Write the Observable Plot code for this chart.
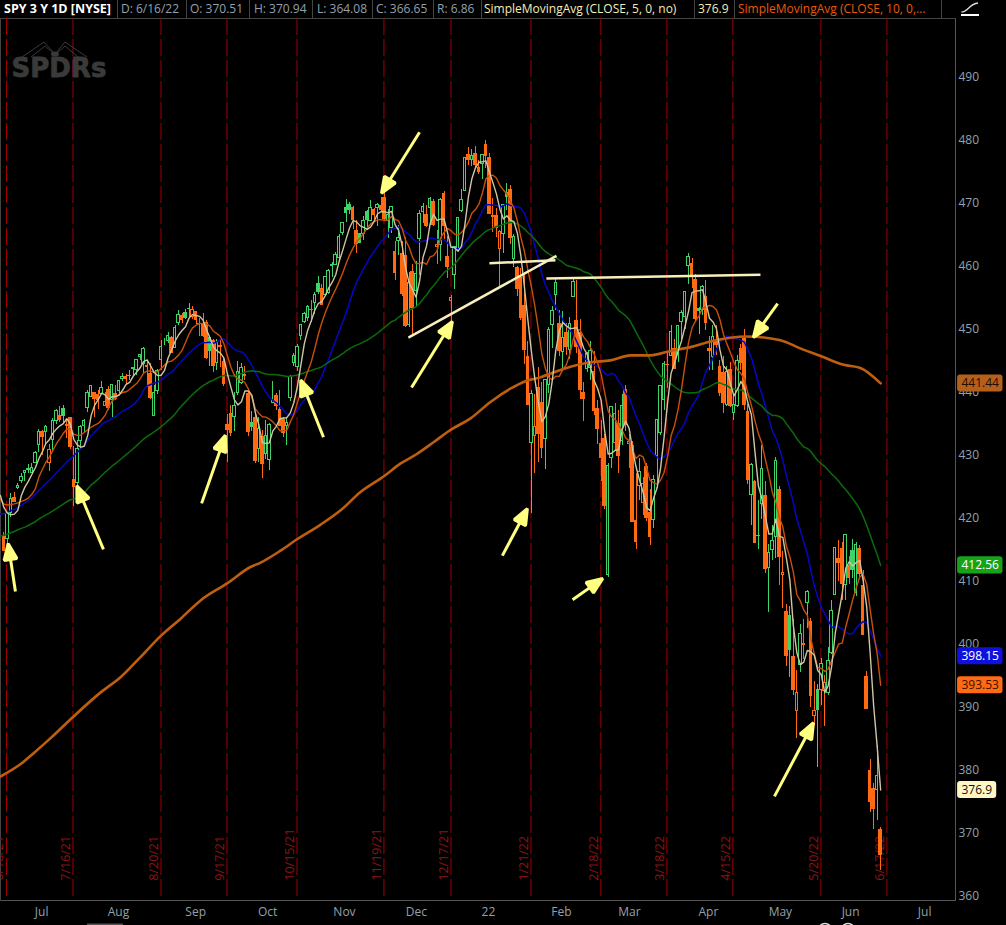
<!DOCTYPE html>
<html><head><meta charset="utf-8">
<script src="https://cdn.jsdelivr.net/npm/d3@7"></script>
<script src="https://cdn.jsdelivr.net/npm/@observablehq/plot@0.6"></script>
<style>
html,body{margin:0;padding:0;background:#000;width:1006px;height:925px;overflow:hidden;font-family:"Open Sans",sans-serif}
#head{position:relative;width:1006px;height:18px;font-size:12px;line-height:16px;color:#93a0ad;white-space:nowrap}
#head span{position:absolute;top:1px}
#head i{position:absolute;top:0;width:1px;height:18px;background:#444}
#deco{position:absolute;left:0;top:0;pointer-events:none}
#chart svg{display:block}
</style></head><body>
<div id="head">
<span style="left:4px;color:#fff;font-weight:700;font-size:12.5px">SPY 3 Y 1D [NYSE]</span><i style="left:117px"></i>
<span style="left:121px">D: 6/16/22</span><i style="left:186px"></i>
<span style="left:190px">O: 370.51</span><i style="left:249px"></i>
<span style="left:254px">H: 370.94</span><i style="left:312px"></i>
<span style="left:317px">L: 364.08</span><i style="left:372px"></i>
<span style="left:376px">C: 366.65</span><i style="left:433px"></i>
<span style="left:437px">R: 6.86</span><i style="left:481px"></i>
<span style="left:484px;color:#f5ecb8">SimpleMovingAvg (CLOSE, 5, 0, no)</span><i style="left:694px"></i>
<span style="left:698px;color:#f5ecb8">376.9</span><i style="left:734px"></i>
<span style="left:738px;color:#e8590c">SimpleMovingAvg (CLOSE, 10, 0,...</span><i style="left:941px"></i>
</div>
<div id="chart"></div>
<svg id="deco" width="1006" height="925" fill="none">
<path d="M961.5 12C968 12 969 4 978 3" stroke="#ddd" stroke-width="1.3"/>
<path d="M961 15H979" stroke="#fff" stroke-width="2"/>
<path d="M22 57L44 42L54 53M31 57L45 46L54 54M87 57L65 42L56 53M78 57L65 46L56 54" stroke="#3a3a3a" stroke-width="1"/>
<ellipse cx="55" cy="54" rx="4" ry="2.5" fill="#3a3a3a"/>
<rect x="87" y="923.5" width="36" height="1.5" fill="#555"/>
<circle cx="825" cy="930" r="6.5" stroke="#ddd" stroke-width="1.5"/>
<circle cx="848" cy="930" r="6.5" stroke="#ddd" stroke-width="1.5"/>
</svg>
<script>
const preCloses=[408.52,411.49,411.64,412.86,411.45,415.87,417.26,415.21,412.17,416.07,412.27,416.74,417.61,417.52,417.40,420.06,417.30,418.20,415.62,415.75,419.07,422.12,417.94,414.21,405.41,410.28,416.58,415.52,411.94,410.86,
415.28,414.94,419.17,418.24,419.07,419.29,420.04,419.67,420.33,418.77,422.60,422.19,422.28,421.65,423.61,424.31,425.26,424.48,422.11,421.97];

const opens=[
417.09,416.80,420.85,423.19,424.89,425.90,427.17,427.88,427.21,
428.87,431.67,433.78,433.66,428.78,432.53,435.43,436.24,437.40,434.81,436.01,426.19,425.68,432.34,434.74,437.52,439.31,439.91,439.68,439.82,437.91,
440.34,438.80,439.78,440.22,442.10,442.46,442.61,443.82,443.62,445.59,444.53,444.24,442.96,436.27,440.23,445.16,447.97,448.17,448.61,447.12,450.97,452.13,
452.56,453.32,451.98,452.71,450.89,450.70,451.04,448.64,448.12,444.62,447.32,444.92,434.88,436.53,436.05,439.85,441.44,442.81,439.69,435.19,436.02,
430.98,433.00,430.24,429.27,438.39,439.48,437.16,435.67,434.71,439.08,444.75,443.97,448.92,451.13,451.77,453.13,454.28,457.20,456.45,455.46,455.87,
460.30,460.22,461.30,465.36,469.28,469.70,469.32,465.58,465.21,465.12,468.64,467.15,469.00,469.24,469.61,470.89,467.22,466.06,462.34,464.07,462.00,
461.64,450.73,459.17,456.13,464.41,468.70,468.15,469.23,470.19,463.09,463.42,471.56,461.55,454.48,458.61,462.79,468.75,472.06,477.72,476.98,477.93,475.64,
476.30,479.22,477.16,467.89,467.95,462.70,465.23,471.59,472.19,461.19,459.74,458.13,453.75,445.56,432.03,433.06,440.72,438.26,432.68,441.24,
450.68,455.50,450.95,446.35,449.51,446.73,455.22,451.34,449.41,439.92,443.73,443.93,443.22,437.33,431.89,432.66,411.02,429.61,432.03,
435.04,432.37,440.47,431.75,431.55,419.62,425.14,422.52,428.12,420.89,419.77,429.89,433.59,438.80,444.34,445.86,446.91,445.94,451.16,452.06,460.02,460.34,457.87,
453.31,453.13,455.22,446.89,445.59,447.97,444.11,443.08,438.03,443.55,436.81,437.86,446.92,448.54,436.91,423.67,425.83,417.24,422.29,423.59,
412.07,415.01,417.08,424.55,411.10,405.10,404.49,398.07,389.37,396.71,399.98,406.53,403.50,388.62,392.83,392.83,392.56,392.31,398.67,407.91,413.55,
415.17,409.42,412.40,414.78,408.10,415.17,409.34,394.88,379.85,377.00,376.85,370.51];

const highs=[
417.83,421.06,424.00,424.05,425.55,427.09,427.65,428.56,428.78,
430.60,434.10,434.01,434.76,431.73,435.84,437.35,437.84,437.92,435.53,436.06,431.41,432.42,434.70,435.72,440.30,441.03,439.94,440.30,441.80,440.06,
440.93,441.28,441.12,441.85,442.94,442.80,443.44,443.88,445.26,445.94,447.11,444.96,444.63,441.14,443.71,448.23,448.54,449.46,448.86,450.65,453.07,452.49,
453.11,454.05,453.63,452.81,451.67,452.57,451.49,448.92,448.34,448.41,448.36,445.37,436.56,437.91,440.03,444.89,444.67,444.05,440.04,437.04,436.77,
436.03,433.96,435.49,435.12,441.68,439.89,440.26,436.10,436.05,442.66,446.26,447.55,450.71,452.73,453.83,454.67,455.90,458.49,457.16,458.40,459.56,
460.70,462.23,465.15,467.00,470.65,470.23,469.57,467.38,465.29,467.86,468.81,470.49,469.19,470.01,470.94,473.54,469.10,469.57,463.90,466.56,464.03,
464.67,459.07,460.30,460.79,468.88,470.00,469.63,470.90,470.56,465.74,470.86,471.87,464.74,455.40,463.21,467.81,472.19,477.31,478.81,478.56,479.00,476.86,
477.85,479.98,477.98,470.82,469.20,465.74,469.85,473.20,472.88,465.09,459.96,459.61,458.74,448.06,440.38,439.72,444.04,441.59,442.00,450.28,
453.63,458.12,452.97,452.78,450.99,451.92,457.88,457.71,451.61,441.60,446.28,448.06,446.57,438.66,435.50,433.26,428.76,437.84,438.20,
437.17,439.72,441.11,433.37,432.30,427.21,429.51,426.43,428.77,424.55,426.84,435.68,441.07,444.86,446.46,450.58,448.49,450.50,452.98,455.91,462.07,461.20,458.76,
453.46,456.91,457.83,448.93,450.69,450.63,445.00,445.75,444.11,444.73,439.75,445.80,447.57,450.01,438.08,428.69,426.04,422.92,431.66,425.87,
415.92,418.93,429.66,425.00,414.80,406.41,406.08,404.04,395.80,403.18,403.97,408.57,404.14,394.14,393.61,397.73,395.15,399.45,407.04,415.38,416.46,
416.24,417.44,414.04,416.61,416.22,415.77,411.74,395.78,381.81,377.94,383.90,370.94];

const lows=[
414.70,415.93,420.08,422.51,424.62,425.55,425.89,427.13,427.18,
428.80,430.52,430.01,431.51,427.52,430.71,434.97,435.31,434.91,432.72,430.92,421.97,424.83,431.01,433.69,436.79,439.26,435.99,437.31,439.81,437.77,
437.21,436.10,438.73,439.88,441.80,441.31,441.88,442.62,442.66,445.07,442.87,440.85,438.92,436.12,439.71,443.44,447.42,447.77,446.16,447.06,450.71,450.92,
451.55,451.91,451.55,450.74,448.86,448.72,445.31,444.11,443.22,443.44,444.02,441.02,428.86,433.07,433.75,439.60,441.21,441.90,432.94,433.85,428.78,
428.86,426.36,429.39,427.54,438.20,437.19,434.62,432.78,431.54,438.58,444.09,443.27,448.27,451.01,451.31,451.05,452.39,455.56,453.86,455.45,455.56,
458.20,460.08,460.83,464.99,466.92,468.20,465.88,462.04,463.75,464.11,466.23,467.07,467.48,466.34,468.50,467.35,464.45,465.19,457.77,461.73,455.30,
450.29,450.31,448.92,453.56,458.65,466.83,466.14,466.51,466.27,460.25,460.74,464.32,458.06,451.14,456.31,462.58,468.64,472.01,476.06,475.92,475.67,474.67,
473.85,475.58,468.28,465.43,464.65,456.60,462.05,468.94,463.44,459.90,455.31,451.46,444.50,437.95,420.76,427.15,428.86,429.45,427.82,439.81,
446.94,453.05,445.71,443.83,445.85,445.22,455.01,446.20,438.94,435.34,443.18,441.94,436.42,431.82,425.86,421.35,410.64,427.86,430.70,
427.11,431.57,433.80,427.88,419.36,415.12,422.82,420.44,419.53,415.79,418.42,424.80,433.19,437.22,440.68,445.86,443.71,444.76,448.43,450.06,457.18,456.47,451.16,
449.14,452.26,449.82,443.47,443.53,445.94,439.39,436.65,437.84,437.68,435.61,437.68,443.48,437.10,425.44,418.84,416.07,415.01,419.83,411.21,
405.02,413.36,413.71,409.44,405.73,396.50,394.82,391.96,385.15,395.61,397.60,402.58,390.04,387.11,380.54,390.38,386.96,391.89,398.45,407.70,410.03,
406.93,407.04,409.51,410.55,407.61,410.34,401.44,389.75,373.30,370.59,372.12,364.08];

const closes=[
414.92,420.86,423.11,422.60,425.10,426.61,427.47,427.70,428.06,
430.43,433.72,432.93,434.46,430.92,435.52,437.08,435.59,436.24,434.75,431.34,424.97,431.06,434.55,435.46,439.94,441.02,439.01,438.83,440.65,438.51,
437.59,441.15,438.98,441.76,442.49,442.13,442.68,443.78,445.11,445.92,446.97,444.04,439.18,439.86,443.36,447.26,447.97,448.91,446.26,450.25,452.23,451.56,
451.80,453.19,453.08,451.46,450.91,448.98,445.44,446.58,444.17,447.88,447.17,441.40,434.04,433.63,437.86,443.18,443.91,442.64,433.72,434.45,429.14,
434.24,428.64,433.10,434.90,438.66,437.86,434.69,433.62,435.18,442.50,445.87,447.19,450.64,452.41,453.59,453.12,455.55,455.96,453.94,458.32,459.25,
460.04,461.90,464.72,466.91,468.53,468.93,467.38,463.62,463.77,467.27,467.43,469.28,468.14,469.73,468.89,467.57,468.19,469.44,458.97,464.60,455.56,
450.50,457.40,453.42,458.79,468.28,469.52,466.35,470.74,466.57,463.36,470.60,466.45,459.87,454.98,463.06,467.69,470.60,477.26,476.87,477.48,476.16,474.96,
477.71,477.55,468.38,467.94,466.09,465.51,469.75,471.02,464.53,464.72,456.49,451.75,446.75,437.98,439.84,434.47,433.38,431.24,441.95,449.91,
452.95,457.35,446.60,448.70,447.26,450.94,457.54,447.16,440.46,439.02,446.10,446.60,437.06,434.23,429.57,421.95,428.30,437.75,436.63,
429.98,437.89,434.90,432.17,419.43,416.25,427.41,425.48,420.07,417.00,426.17,435.62,441.07,444.52,444.39,449.59,443.80,450.49,452.69,455.91,461.55,458.70,451.64,
452.92,456.80,451.03,446.52,448.77,447.57,439.92,438.29,443.31,437.79,437.97,445.04,444.71,438.06,426.04,428.51,416.10,417.27,427.81,412.00,
414.48,416.38,429.06,413.81,411.34,398.17,399.09,392.75,392.34,401.72,400.09,408.32,391.86,389.46,389.63,396.92,393.89,397.37,405.31,415.26,412.93,
409.59,417.39,410.54,411.79,415.74,411.22,401.44,389.80,375.00,373.87,379.20,366.65];

const sma200Bars=[-1,5,8.5,13.3,19.8,27.7,33.4,39.1,45,50.6,56.3,63.9,70.6,73.5,79.2,83.9,90.6,96.4,102.1,108.8,113.5,118.1,123,128,133.6,139.3,145,149.3,153.6,156.5,162.2,167.9,173.7,179.4,185.1,190.8,196.6,202.3,208,212.3,222.3,228,233.8,240.4,245.2,251];
const sma200Values=[379.05,381.1,382.75,385.1,388.5,392.4,394.8,398,401.4,404.1,407,409.7,412.3,413,414.9,416.7,419,421.3,424.2,426.7,428.7,430.2,432.1,434.1,435.9,438.5,440.6,441.8,442.4,443,444.1,444.8,445.1,445.9,445.9,446.6,447.2,448.1,448.7,448.9,448.3,447,445.8,444.4,443.9,441.44];

const expiryBars=[0.74,19.78,44.98,63.87,83.91,108.8,128,150.9,170.9,189.8,208.7,233.9,252.8];
const expiryLabels=["6/18/21","7/16/21","8/20/21","9/17/21","10/15/21","11/19/21","12/17/21","1/21/22","2/18/22","3/18/22","4/15/22","5/20/22","6/17/22"];

const monthBars=[10.8,32.8,54.9,75.5,97.5,118.1,138.7,159.6,179.1,201.7,222.3,242.4,263.6];
const monthLabels=["Jul","Aug","Sep","Oct","Nov","Dec","22","Feb","Mar","Apr","May","Jun","Jul"];
const priceTicks=[360,370,380,390,400,410,420,430,440,450,460,470,480,490];

const arrowTailBar=[3.3,28.5,56.6,91.5,119,116.7,142.7,162.8,220.6,221.5];
const arrowTailPrice=[408.4,415.1,422.4,432.9,481.3,440.8,414.1,407.1,375.9,454.1];
const arrowTipBar=[1.3,21.1,63.2,85.2,108.4,128.1,149.6,171,231.5,214.9];
const arrowTipPrice=[415.7,424.9,432.9,441.7,471.9,451,421.3,410.3,387.3,449];

const trendStartBar=[115.8,139,155.3];
const trendStartPrice=[448.7,460.5,458.1];
const trendEndBar=[158.2,157.9,216.6];
const trendEndPrice=[461.7,461,458.7];

const tagValues=[441.44,412.56,398.15,393.53,376.9];
const tagLabels=["441.44","412.56","398.15","393.53","376.9"];
const tagFill=["#b5601a","#17a317","#1010dd","#ff6a13","#fff6c4"];
const tagText=["#1e0c00","#ffffff","#ffffff","#3a1200","#111111"];
const tagBars=[13,13,13,13,11.2];

if(new Set([opens.length,highs.length,lows.length,closes.length]).size!==1) throw new Error("len "+[opens.length,highs.length,lows.length,closes.length]);

const GREEN="#3fd467",ORANGE="#ff6a13";
const candles=closes.map((c,i)=>{
  const prev=i?closes[i-1]:preCloses[preCloses.length-1];
  const col=c>=prev?GREEN:ORANGE;
  return {i,o:opens[i],h:highs[i],l:lows[i],c,col,fill:c>opens[i]?"#000":col};
});
const closeSeries=[...preCloses,...closes].map((c,n)=>({i:n-preCloses.length,c}));
const sma200=sma200Bars.map((i,n)=>({i,v:sma200Values[n]}));
const arrows=arrowTailBar.map((_,n)=>({x1:arrowTailBar[n],y1:arrowTailPrice[n],x2:arrowTipBar[n],y2:arrowTipPrice[n]}));
const trends=trendStartBar.map((_,n)=>({x1:trendStartBar[n],y1:trendStartPrice[n],x2:trendEndBar[n],y2:trendEndPrice[n]}));
const expiries=expiryBars.map((i,n)=>({i,t:expiryLabels[n]}));
const tags=tagValues.map((v,n)=>({v,t:tagLabels[n],f:tagFill[n],c:tagText[n],w:tagBars[n]}));

const head=(color)=>d3.create("svg:marker")
  .attr("viewBox","-16 -8 20 16").attr("markerWidth",20).attr("markerHeight",16)
  .attr("markerUnits","userSpaceOnUse").attr("orient","auto").attr("refX",0).attr("refY",0)
  .call(m=>m.append("path").attr("d","M-14,-6.5L2,0L-14,6.5Z").attr("fill",color)).node();

const sma=(k,stroke,strokeWidth)=>Plot.lineY(closeSeries,Plot.windowY({k,anchor:"end",reduce:"mean",strict:true},{x:"i",y:"c",stroke,strokeWidth,clip:"frame"}));
const xMax=(955-3.4)/3.493;

const chart=Plot.plot({
  width:1006,height:907,marginLeft:0,marginRight:51,marginTop:0,marginBottom:25,
  style:{background:"#000",fontFamily:"'Open Sans',sans-serif",fontSize:"12px",overflow:"hidden"},
  x:{domain:[-3.4/3.493,xMax],axis:null},
  y:{domain:[359.365,499.365],axis:null},
  color:{type:"identity"},
  marks:[
    Plot.frame({anchor:"bottom",stroke:"#555"}),
    Plot.frame({anchor:"right",stroke:"#555"}),
    Plot.frame({anchor:"top",stroke:"#444"}),
    Plot.frame({anchor:"left",stroke:"#444"}),
    Plot.ruleX(expiries,{x:"i",stroke:"#a00000",strokeWidth:1,strokeDasharray:"17 4"}),
    Plot.text(expiries,{x:"i",y:362.5,text:"t",rotate:-90,textAnchor:"start",dx:-7,fill:"#8c1414",fontSize:12.5,clip:"frame"}),
    Plot.text(["SPDRs"],{frameAnchor:"top-left",dx:11,dy:40,fill:"#3a3a3a",stroke:"#3a3a3a",strokeWidth:0.8,fontFamily:"DejaVu Sans",fontWeight:"bold",fontSize:26,lineAnchor:"top"}),
    Plot.ruleX(candles,{x:"i",y1:"l",y2:"h",stroke:"col",strokeWidth:1,shapeRendering:"crispEdges"}),
    Plot.rect(candles,{x1:d=>d.i-0.36,x2:d=>d.i+0.36,y1:"o",y2:"c",fill:"fill",stroke:"col",strokeWidth:1,shapeRendering:"crispEdges"}),
    sma(20,"#0606c4",1.5),
    sma(50,"#0b6b0b",1.5),
    Plot.line(sma200,{x:"i",y:"v",stroke:"#bf5f0e",strokeWidth:2.6,curve:"monotone-x",clip:"frame"}),
    sma(10,"#c9500a",1.4),
    sma(5,"#cfc7a3",1.4),
    Plot.link(trends,{x1:"x1",y1:"y1",x2:"x2",y2:"y2",stroke:"#f7efbd",strokeWidth:2.5}),
    Plot.link(arrows,{x1:"x1",y1:"y1",x2:"x2",y2:"y2",stroke:"#ffff80",strokeWidth:3,markerEnd:head}),
    Plot.axisY({anchor:"right",ticks:priceTicks,tickSize:0,tickPadding:3,label:null,fill:"#93a0ad",textAnchor:"start"}),
    Plot.axisX({anchor:"bottom",ticks:monthBars,tickFormat:d=>monthLabels[monthBars.indexOf(d)],tickSize:0,tickPadding:7,label:null,fill:"#93a0ad"}),
    Plot.rect(tags,{x1:()=>xMax+0.6,x2:d=>xMax+0.6+d.w,y1:d=>d.v-1.35,y2:d=>d.v+1.35,fill:"f",rx:3}),
    Plot.text(tags,{x:()=>xMax,y:"v",text:"t",textAnchor:"start",dx:6,fill:"c",fontSize:12})
  ]
});
document.getElementById("chart").append(chart);
</script>
</body></html>
